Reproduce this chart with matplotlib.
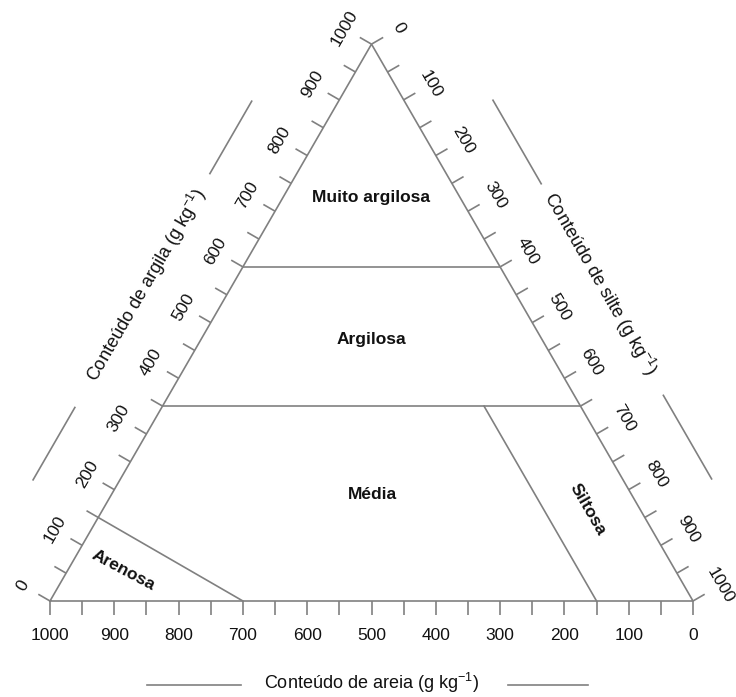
import numpy as np
import matplotlib.pyplot as plt

plt.rcParams['font.family'] = ['Liberation Sans', 'DejaVu Sans']
plt.rcParams['mathtext.fontset'] = 'custom'
plt.rcParams['mathtext.rm'] = 'Liberation Sans'

# axis scale (g/kg)
major_ticks = list(range(0, 1001, 100))
minor_ticks = list(range(0, 1001, 50))

# class boundaries, each as two (sand, silt, clay) compositions
boundaries = [
    [(400, 0, 600), (0, 400, 600)],     # muito argilosa / argilosa
    [(650, 0, 350), (0, 650, 350)],     # argilosa / media
    [(850, 0, 150), (700, 300, 0)],     # arenosa
    [(150, 850, 0), (150, 500, 350)],   # siltosa
]

class_names = ['Muito argilosa', 'Argilosa', 'Média', 'Arenosa', 'Siltosa']
class_sand = [138, 265, 403, 858, 81]
class_silt = [138, 266, 405, 86, 754]
class_clay = [724, 469, 192, 56, 165]
class_rot = [0, 0, 0, -28, -60]

title_sand = 'Conteúdo de areia (g kg$^{\\mathdefault{-1}}$)'
title_clay = 'Conteúdo de argila (g kg$^{\\mathdefault{-1}}$)'
title_silt = 'Conteúdo de silte (g kg$^{\\mathdefault{-1}}$)'

LINE = '#808080'
TXT = '#111111'
H = np.sqrt(3) / 2


def tern(sand, silt, clay):
    tot = sand + silt + clay
    return (silt + clay / 2) / tot, clay / tot * H


fig = plt.figure(figsize=(7.36, 6.97), dpi=100)
ax = fig.add_axes([0, 0, 1, 1])
ax.set_xlim(-50 / 643, 686 / 643)
ax.set_ylim(-96 / 643, 601 / 643)
ax.set_aspect('equal')
ax.axis('off')

lw = 1.2

# triangle outline
ax.plot([0, 1, 0.5, 0], [0, 0, H, 0], color=LINE, lw=lw, solid_joinstyle='miter')

# axes: point on edge for value v, outward normal, label rotation
axes_def = {
    'sand': (lambda v: tern(v, 1000 - v, 0), np.array([0.0, -1.0]), 0),
    'clay': (lambda v: tern(1000 - v, 0, v), np.array([-H, 0.5]), 60),
    'silt': (lambda v: tern(0, v, 1000 - v), np.array([H, 0.5]), -60),
}

tick_len = 0.021
lab_off = 0.049
for name, (pt, nrm, rot) in axes_def.items():
    for v in minor_ticks:
        x, y = pt(v)
        ax.plot([x, x + nrm[0] * tick_len], [y, y + nrm[1] * tick_len],
                color=LINE, lw=lw, solid_capstyle='butt')
    for v in major_ticks:
        x, y = pt(v)
        off = 0.053 if name == 'sand' else lab_off
        ax.text(x + nrm[0] * off, y + nrm[1] * off, str(v), rotation=rot,
                rotation_mode='anchor', ha='center', va='center',
                fontsize=12.5, color=TXT)

# class boundaries
for a, b in boundaries:
    x0, y0 = tern(*a)
    x1, y1 = tern(*b)
    ax.plot([x0, x1], [y0, y1], color=LINE, lw=lw)

# class labels
for name, s, si, c, r in zip(class_names, class_sand, class_silt, class_clay, class_rot):
    x, y = tern(s, si, c)
    ax.text(x, y, name, rotation=r, rotation_mode='anchor', ha='center',
            va='center', fontsize=12.5, fontweight='bold', color=TXT)

# axis titles with flanking lines
def edge_point(p0, p1, t, nrm, off):
    return (p0[0] + (p1[0] - p0[0]) * t + nrm[0] * off,
            p0[1] + (p1[1] - p0[1]) * t + nrm[1] * off)

titles = [
    ((0, 0), (1, 0), np.array([0, -1.0]), title_sand, 0, 0.127, 0.131,
     [(0.151, 0.297), (0.713, 0.836)]),
    ((0, 0), (0.5, H), np.array([-H, 0.5]), title_clay, 60, 0.115, 0.117,
     [(0.15, 0.28), (0.70, 0.83)]),
    ((0.5, H), (1, 0), np.array([H, 0.5]), title_silt, -60, 0.122, 0.12,
     [(0.17, 0.32), (0.70, 0.85)]),
]
for p0, p1, nrm, text, rot, toff, loff, segs in titles:
    tx, ty = edge_point(p0, p1, 0.5, nrm, toff)
    ax.text(tx, ty, text, rotation=rot, rotation_mode='anchor', ha='center',
            va='center', fontsize=13, color=TXT)
    for t0, t1 in segs:
        xa, ya = edge_point(p0, p1, t0, nrm, loff)
        xb, yb = edge_point(p0, p1, t1, nrm, loff)
        ax.plot([xa, xb], [ya, yb], color=LINE, lw=lw)

fig.savefig('out.png', dpi=100, facecolor='white')
